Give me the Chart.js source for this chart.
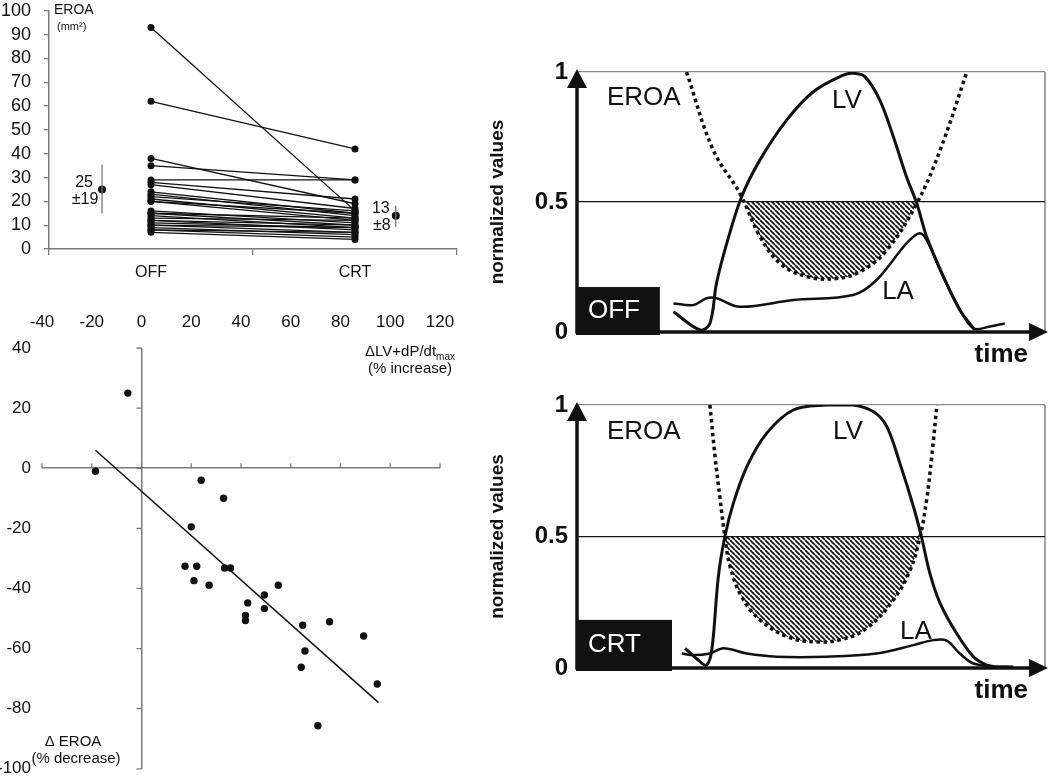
<!DOCTYPE html>
<html>
<head>
<meta charset="utf-8">
<script src="https://cdn.jsdelivr.net/npm/chart.js@4.4.1/dist/chart.umd.min.js"></script>
<style>
  html, body { margin: 0; padding: 0; background: #fff; }
  body { width: 1050px; height: 782px; position: relative; overflow: hidden; }
  canvas { position: absolute; }
</style>
</head>
<body>
<canvas id="pairChart" width="470" height="308" style="left:0;top:-13px;width:470px;height:308px"></canvas>
<canvas id="scatterChart" width="470" height="500" style="left:0;top:290px;width:470px;height:500px"></canvas>
<canvas id="offChart" width="580" height="340" style="left:470px;top:40px;width:580px;height:340px"></canvas>
<canvas id="crtChart" width="580" height="330" style="left:470px;top:380px;width:580px;height:330px"></canvas>
<script>
// EROA OFF vs CRT, its change vs LV dP/dt change, and the two timing schematics
const FONT = "'Liberation Sans', Arial, sans-serif";
const INK = "#111";
const AXIS = "#7a7a7a";

// panel A - paired EROA (mm2), one entry per patient
const groups = ["OFF", "CRT"];
const groupPos = [0.5, 1.5];
const eroaOff = [93, 62, 38, 35, 29, 28, 27, 24, 23, 22, 21, 20, 20, 16, 15, 15, 14, 13, 12, 12, 11, 10, 10, 9, 8, 8, 7];
const eroaCrt = [16, 42, 19, 29, 29, 21, 17, 15, 14, 16, 13, 12, 15, 11, 10, 13, 9, 12, 8, 10, 9, 7, 9, 6, 7, 5, 4];
const meanPos = [0.26, 1.7];
const meanVals = [25, 14];
const sdLow = [15, 9.2];
const sdHigh = [35.4, 18.3];
const meanText = [["25", "±19"], ["13", "±8"]];

// panel B - % change in LV+dP/dtmax vs % change in EROA
const dpdtInc = [-5.5, -18.5, 24, 33, 20, 17.5, 22.2, 21.1, 27.2, 33.4, 35.8, 42.7, 41.8, 41.8, 49.4, 49.4, 55, 64.8, 65.7, 64.2, 75.6, 70.9, 89.3, 94.8];
const eroaDec = [25, -1, -4, -10, -19.5, -32.6, -32.6, -37.4, -38.9, -33.2, -33.2, -44.8, -49, -50.7, -42.2, -46.7, -38.9, -52.2, -60.8, -66.2, -51.1, -85.7, -55.8, -71.8];
const fitX = [-18.5, 95.3];
const fitY = [6, -78];

// panels C/D - normalized curves over time (0-100 = axis length)
const levelTicks = [0, 0.5, 1];
const offLvT = [20.6, 26.3, 28.4, 29.8, 32.0, 35.2, 39.1, 44.8, 50.5, 56.9, 59.0, 61.5, 64.7, 67.6, 70.4, 72.6, 74.7, 78.3, 81.8, 85.0];
const offLvV = [0.078, 0.008, 0.033, 0.187, 0.341, 0.521, 0.662, 0.815, 0.924, 0.988, 0.995, 0.982, 0.892, 0.751, 0.597, 0.495, 0.367, 0.213, 0.085, 0.008];
const offLaT = [20.6, 24.9, 27.7, 29.8, 34.8, 46.2, 59.0, 64.0, 70.4, 73.2, 74.7, 77.6, 81.1, 84.7, 88.2, 91.4];
const offLaV = [0.11, 0.104, 0.13, 0.13, 0.097, 0.123, 0.142, 0.2, 0.341, 0.38, 0.354, 0.238, 0.11, 0.014, 0.021, 0.033];
const offEroaT = [23.4, 29.1, 34.8, 39.1, 43.4, 49.1, 55.5, 60.5, 66.2, 72.6, 77.6, 83.3];
const offEroaV = [1.0, 0.7, 0.533, 0.367, 0.264, 0.213, 0.206, 0.232, 0.315, 0.495, 0.7, 1.0];
const crtLvT = [23.1, 26.3, 27.7, 28.8, 30.2, 31.6, 33.4, 36.3, 40.5, 46.2, 53.3, 59.0, 63.3, 66.2, 69.0, 71.9, 73.6, 75.4, 77.6, 81.1, 84.7, 87.5, 89.0];
const crtLvV = [0.075, 0.024, 0.011, 0.068, 0.347, 0.5, 0.626, 0.766, 0.892, 0.981, 1.0, 1.0, 0.975, 0.918, 0.778, 0.613, 0.499, 0.36, 0.246, 0.132, 0.043, 0.011, 0.005];
const crtLaT = [22.4, 24.9, 28.4, 31.3, 36.3, 42.7, 53.3, 64.0, 71.9, 76.1, 79.0, 81.8, 84.7, 89.0, 93.2];
const crtLaV = [0.055, 0.049, 0.055, 0.075, 0.055, 0.043, 0.043, 0.055, 0.087, 0.106, 0.104, 0.055, 0.017, 0.007, 0.005];
const crtEroaT = [28.4, 29.5, 30.6, 31.6, 32.7, 35.2, 39.1, 44.8, 50.5, 56.2, 61.9, 67.6, 71.2, 73.3, 74.7, 75.8, 76.9];
const crtEroaV = [1.0, 0.804, 0.639, 0.5, 0.386, 0.271, 0.183, 0.12, 0.1, 0.107, 0.151, 0.259, 0.373, 0.499, 0.639, 0.804, 1.0];

Chart.defaults.font.family = FONT;
Chart.defaults.color = INK;
const noChrome = { legend: { display: false }, tooltip: { enabled: false } };
const zip = (xs, ys) => xs.map((x, i) => ({ x, y: ys[i] }));

// ---------- panel A ----------
const pairText = {
  id: "pairText",
  afterDraw(chart) {
    const { ctx, chartArea: a, scales: { xl, y } } = chart;
    ctx.save();
    ctx.fillStyle = INK;
    ctx.textBaseline = "middle";
    ctx.textAlign = "left";
    ctx.font = `14px ${FONT}`;
    ctx.fillText("EROA", a.left + 5, a.top - 1);
    ctx.font = `11px ${FONT}`;
    ctx.fillText("(mm²)", a.left + 8, a.top + 16);
    ctx.textAlign = "center";
    ctx.font = `16px ${FONT}`;
    const dx = [-18, -15];
    meanPos.forEach((p, i) => {
      const px = xl.getPixelForValue(p) + dx[i];
      const py = y.getPixelForValue(meanVals[i]);
      ctx.fillText(meanText[i][0], px, py - 7);
      ctx.fillText(meanText[i][1], px + 1, py + 10);
    });
    ctx.restore();
  }
};

const pairSets = eroaOff.map((v, i) => ({
  xAxisID: "xl",
  data: [{ x: groupPos[0], y: v }, { x: groupPos[1], y: eroaCrt[i] }],
  borderColor: INK,
  borderWidth: 1.3,
  pointRadius: 3.5,
  pointBackgroundColor: INK,
  pointBorderWidth: 0,
}));
const sdSets = meanPos.map((p, i) => ({
  xAxisID: "xl",
  data: [{ x: p, y: sdLow[i] }, { x: p, y: sdHigh[i] }],
  borderColor: "#777",
  borderWidth: 1.3,
  pointRadius: 0,
}));
const meanSet = {
  xAxisID: "xl",
  showLine: false,
  data: zip(meanPos, meanVals),
  pointRadius: 4,
  pointBackgroundColor: INK,
  pointBorderWidth: 0,
};

new Chart(document.getElementById("pairChart"), {
  type: "line",
  data: { labels: groups, datasets: [...pairSets, ...sdSets, meanSet] },
  options: {
    responsive: false,
    animation: false,
    layout: { padding: { top: 8, right: 13 } },
    plugins: noChrome,
    scales: {
      x: {
        type: "category",
        offset: true,
        grid: { offset: true, drawOnChartArea: false, tickLength: 6, color: AXIS, lineWidth: 1.3 },
        border: { color: AXIS, width: 1.5 },
        ticks: { font: { size: 16 }, color: INK, padding: 8 },
        afterFit: (s) => { s.height = 46; },
      },
      xl: { type: "linear", min: 0, max: 2, display: false },
      y: {
        min: 0,
        max: 100,
        ticks: { stepSize: 10, autoSkip: false, font: { size: 18 }, color: INK, padding: 13 },
        grid: { drawOnChartArea: false, tickLength: 5, color: AXIS, lineWidth: 1.3 },
        border: { color: AXIS, width: 1.5 },
        afterFit: (s) => { s.width = 49; },
      },
    },
  },
  plugins: [pairText],
});

// ---------- panel B ----------
const crossAxes = {
  id: "crossAxes",
  afterDraw(chart) {
    const { ctx, chartArea: a, scales: { x, y } } = chart;
    const x0 = x.getPixelForValue(0);
    const y0 = y.getPixelForValue(0);
    ctx.save();
    ctx.strokeStyle = AXIS;
    ctx.lineWidth = 1.3;
    ctx.beginPath();
    x.ticks.forEach((t) => {
      const px = x.getPixelForValue(t.value);
      ctx.moveTo(px, y0);
      ctx.lineTo(px, y0 - 5);
    });
    y.ticks.forEach((t) => {
      const py = y.getPixelForValue(t.value);
      ctx.moveTo(x0, py);
      ctx.lineTo(x0 - 5, py);
    });
    ctx.stroke();

    ctx.fillStyle = INK;
    ctx.textBaseline = "middle";
    ctx.font = `15px ${FONT}`;
    const main = "ΔLV+dP/dt";
    const wMain = ctx.measureText(main).width;
    ctx.font = `10px ${FONT}`;
    const wSub = ctx.measureText("max").width;
    const startX = a.right + 15 - wMain - wSub;
    ctx.textAlign = "left";
    ctx.font = `15px ${FONT}`;
    ctx.fillText(main, startX, a.top + 4);
    ctx.font = `10px ${FONT}`;
    ctx.fillText("max", startX + wMain, a.top + 9);
    ctx.textAlign = "center";
    ctx.font = `15px ${FONT}`;
    ctx.fillText("(% increase)", a.right - 30, a.top + 21);
    ctx.fillText("Δ EROA", 73, a.bottom - 27);
    ctx.fillText("(% decrease)", 76, a.bottom - 10);
    ctx.restore();
  }
};

const zeroOnly = (c) => (c.tick.value === 0 ? AXIS : "rgba(0,0,0,0)");

new Chart(document.getElementById("scatterChart"), {
  type: "scatter",
  data: {
    datasets: [
      {
        data: zip(dpdtInc, eroaDec),
        pointRadius: 3.7,
        pointBackgroundColor: INK,
        pointBorderWidth: 0,
      },
      {
        data: zip(fitX, fitY),
        showLine: true,
        borderColor: INK,
        borderWidth: 1.5,
        pointRadius: 0,
      },
    ],
  },
  options: {
    responsive: false,
    animation: false,
    layout: { padding: { right: 30, bottom: 13 } },
    plugins: noChrome,
    scales: {
      x: {
        position: "top",
        min: -40,
        max: 120,
        ticks: { stepSize: 20, font: { size: 17 }, color: INK, padding: 15 },
        grid: { drawTicks: false, color: zeroOnly, lineWidth: 1.5 },
        border: { display: false },
        afterFit: (s) => { s.height = 58; },
      },
      y: {
        min: -100,
        max: 40,
        ticks: { stepSize: 20, font: { size: 17 }, color: INK, padding: 11 },
        grid: { drawTicks: false, color: zeroOnly, lineWidth: 1.5 },
        border: { display: false },
        afterFit: (s) => { s.width = 42; },
      },
    },
  },
  plugins: [crossAxes],
});

// ---------- panels C / D ----------
function hatchFor(canvasId) {
  const tile = document.createElement("canvas");
  tile.width = tile.height = 5;
  const g = tile.getContext("2d");
  g.strokeStyle = INK;
  g.lineWidth = 1.7;
  g.beginPath();
  for (const k of [-5, 0, 5]) {
    g.moveTo(k, 0);
    g.lineTo(k + 5, 5);
  }
  g.stroke();
  return document.getElementById(canvasId).getContext("2d").createPattern(tile, "repeat");
}

const schematicDecor = {
  id: "schematicDecor",
  afterDatasetsDraw(chart, args, opts) {
    const { ctx, chartArea: a, scales: { x, y } } = chart;
    ctx.save();
    // right side of the frame
    ctx.strokeStyle = "#444";
    ctx.lineWidth = 1;
    ctx.beginPath();
    ctx.moveTo(a.right, a.top);
    ctx.lineTo(a.right, a.bottom);
    ctx.stroke();

    // state box
    const bx = x.getPixelForValue(0);
    const by = y.getPixelForValue(opts.boxTop);
    const bw = x.getPixelForValue(opts.boxRight) - bx;
    ctx.fillStyle = INK;
    ctx.fillRect(bx - 1, by, bw + 1, a.bottom - by + 3);
    ctx.fillStyle = "#fff";
    ctx.font = `26px ${FONT}`;
    ctx.textAlign = "left";
    ctx.textBaseline = "middle";
    ctx.fillText(opts.state, bx + 11, (by + a.bottom) / 2 + 1);

    // axes with arrow heads
    ctx.strokeStyle = INK;
    ctx.fillStyle = INK;
    ctx.lineWidth = 3.5;
    ctx.beginPath();
    ctx.moveTo(a.left, a.bottom + 1.5);
    ctx.lineTo(a.left, a.top + 10);
    ctx.moveTo(a.left - 1.5, a.bottom);
    ctx.lineTo(a.right - 10, a.bottom);
    ctx.stroke();
    ctx.beginPath();
    ctx.moveTo(a.left, a.top - 3);
    ctx.lineTo(a.left - 10, a.top + 16);
    ctx.lineTo(a.left + 10, a.top + 16);
    ctx.closePath();
    ctx.fill();
    ctx.beginPath();
    ctx.moveTo(a.right + 3, a.bottom);
    ctx.lineTo(a.right - 16, a.bottom - 9);
    ctx.lineTo(a.right - 16, a.bottom + 9);
    ctx.closePath();
    ctx.fill();

    // curve names
    ctx.font = `26px ${FONT}`;
    opts.names.forEach((n) => {
      ctx.fillText(n.text, x.getPixelForValue(n.t), y.getPixelForValue(n.v));
    });
    ctx.font = `bold 26px ${FONT}`;
    ctx.textAlign = "right";
    ctx.fillText("time", a.right - 17, a.bottom + 23);
    ctx.restore();
  }
};

function schematic(canvasId, pad, lv, la, eroa, decor) {
  return new Chart(document.getElementById(canvasId), {
    type: "line",
    data: {
      datasets: [
        {
          data: eroa,
          borderColor: INK,
          borderWidth: 3.5,
          borderDash: [3.5, 3.5],
          tension: 0.4,
          pointRadius: 0,
          fill: { target: { value: 0.5 }, above: "rgba(0,0,0,0)", below: hatchFor(canvasId) },
        },
        { data: lv, borderColor: INK, borderWidth: 3, tension: 0.35, pointRadius: 0 },
        { data: la, borderColor: INK, borderWidth: 2.5, tension: 0.35, pointRadius: 0 },
      ],
    },
    options: {
      responsive: false,
      animation: false,
      layout: { padding: pad },
      plugins: { ...noChrome, schematicDecor: decor },
      scales: {
        x: { type: "linear", min: 0, max: 100, display: false },
        y: {
          min: 0,
          max: 1,
          afterBuildTicks: (s) => { s.ticks = levelTicks.map((v) => ({ value: v })); },
          ticks: { font: { size: 24, weight: "bold" }, color: INK, padding: 9, callback: (v) => `${v}` },
          grid: {
            drawTicks: false,
            color: (c) => (c.tick.value === 0.5 ? INK : c.tick.value === 1 ? "#8a8a8a" : "rgba(0,0,0,0)"),
            lineWidth: 1.2,
          },
          border: { display: false },
          title: {
            display: true,
            text: "normalized values",
            font: { size: 19, weight: "bold" },
            color: INK,
            padding: { top: 16, bottom: 0 },
          },
          afterFit: (s) => { s.width = 107; },
        },
      },
    },
    plugins: [schematicDecor],
  });
}

schematic("offChart", { top: 32, right: 5, bottom: 48 },
  zip(offLvT, offLvV), zip(offLaT, offLaV), zip(offEroaT, offEroaV),
  {
    state: "OFF", boxTop: 0.173, boxRight: 17.7,
    names: [{ text: "EROA", t: 6.4, v: 0.9 }, { text: "LV", t: 54.5, v: 0.89 }, { text: "LA", t: 65.2, v: 0.154 }],
  });

schematic("crtChart", { top: 25, right: 5, bottom: 42 },
  zip(crtLvT, crtLvV), zip(crtLaT, crtLaV), zip(crtEroaT, crtEroaV),
  {
    state: "CRT", boxTop: 0.183, boxRight: 20.3,
    names: [{ text: "EROA", t: 6.4, v: 0.897 }, { text: "LV", t: 54.7, v: 0.897 }, { text: "LA", t: 69, v: 0.137 }],
  });
</script>
</body>
</html>
